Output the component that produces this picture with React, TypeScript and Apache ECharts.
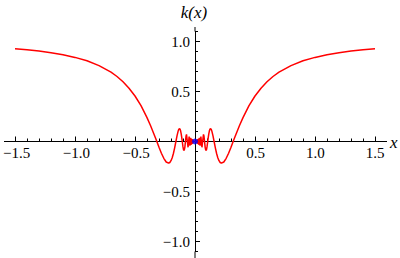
import React, { useEffect, useRef } from "react";
import * as echarts from "echarts";

// Positive half of k(x) (curve is mirror-symmetric about x = 0)
const posX = [
  1.5, 1.4, 1.3, 1.2, 1.1, 1.0, 0.9, 0.8, 0.7, 0.65, 0.6, 0.55, 0.5, 0.45, 0.4, 0.37, 0.35,
  0.33, 0.318, 0.3, 0.28, 0.26, 0.24, 0.22, 0.21, 0.2, 0.19, 0.18, 0.17, 0.16, 0.15, 0.14,
  0.135, 0.13, 0.125, 0.12, 0.115, 0.11, 0.105, 0.1, 0.095, 0.09, 0.085, 0.08, 0.075, 0.0707,
  0.0637, 0.0579, 0.0531, 0.049, 0.0455, 0.0424, 0.0398, 0.0374, 0.0354, 0.0335, 0.0318,
  0.0303, 0.0289, 0.0277, 0.0265, 0.0255, 0.0245, 0.0236, 0.0227, 0.022, 0.0212, 0.0205,
  0.0199, 0.0193, 0.0187, 0.0182, 0.0177, 0.0172, 0.0168, 0.0163, 0.0159,
];
const posK = [
  0.928, 0.917, 0.904, 0.888, 0.868, 0.841, 0.807, 0.759, 0.693, 0.65, 0.597, 0.533, 0.455,
  0.358, 0.239, 0.157, 0.098, 0.037, -0.001, -0.057, -0.117, -0.168, -0.205, -0.217, -0.21,
  -0.192, -0.162, -0.12, -0.066, -0.005, 0.056, 0.106, 0.122, 0.128, 0.124, 0.107, 0.077,
  0.036, -0.01, -0.054, -0.085, -0.089, -0.061, -0.005, 0.052, 0.071,
  0, -0.058, 0, 0.049, 0, -0.042, 0, 0.037, 0, -0.034, 0, 0.03, 0, -0.028, 0, 0.025, 0,
  -0.024, 0, 0.022, 0, -0.021, 0, 0.019, 0, -0.018, 0, 0.017, 0, -0.016, 0,
];
const originPoint = [0, 0];

const xTickLabels = [-1.5, -1.0, -0.5, 0.5, 1.0, 1.5];
const yTickLabels = [-1.0, -0.5, 0.5, 1.0];

const FONT = "Times New Roman, Times, Liberation Serif, DejaVu Serif, serif";
const fmt = (v: number) => (v < 0 ? "\u2212" : "") + Math.abs(v).toFixed(1);

export default function App() {
  const ref = useRef<HTMLDivElement>(null);
  useEffect(() => {
    if (!ref.current) return;
    const chart = echarts.init(ref.current, undefined, { renderer: "svg" });

    const curve: number[][] = [];
    posX.forEach((x, i) => curve.push([-x, posK[i]]));
    curve.push([0, 0]);
    for (let i = posX.length - 1; i >= 0; i--) curve.push([posX[i], posK[i]]);

    const showX = (v: number) => xTickLabels.some((t) => Math.abs(t - v) < 1e-6);
    const showY = (v: number) => yTickLabels.some((t) => Math.abs(t - v) < 1e-6);

    chart.setOption({
      animation: false,
      backgroundColor: "#ffffff",
      grid: [
        { left: 15, width: 360, top: 31.5, height: 220, containLabel: false },
        { left: 195, width: 10, top: 41.5, height: 200, containLabel: false },
        { left: 15, width: 360, top: 131.5, height: 10, containLabel: false },
      ],
      xAxis: [
        {
          type: "value",
          gridIndex: 0,
          min: -1.5,
          max: 1.5,
          interval: 0.5,
          axisLine: { show: true, onZero: true, lineStyle: { color: "#000", width: 1 } },
          axisTick: { show: true, inside: true, length: 5, lineStyle: { color: "#000" } },
          minorTick: { show: true, splitNumber: 5, length: 3, lineStyle: { color: "#000" } },
          splitLine: { show: false },
          axisLabel: { show: false },
        },
        { type: "value", gridIndex: 1, min: 0, max: 1, show: false },
        {
          type: "value",
          gridIndex: 2,
          position: "bottom",
          min: -1.5,
          max: 1.5,
          interval: 0.5,
          axisLine: { show: false, onZero: false },
          axisTick: { show: false },
          splitLine: { show: false },
          axisLabel: {
            show: true,
            margin: 4,
            color: "#000",
            fontFamily: FONT,
            fontSize: 15,
            formatter: (v: number) => (showX(v) ? fmt(v) : ""),
          },
        },
      ],
      yAxis: [
        {
          type: "value",
          gridIndex: 0,
          min: -1.1,
          max: 1.1,
          interval: 0.1,
          axisLine: { show: true, onZero: true, lineStyle: { color: "#000", width: 1 } },
          axisTick: { show: true, inside: true, length: 3, lineStyle: { color: "#000" } },
          splitLine: { show: false },
          axisLabel: { show: false },
        },
        {
          type: "value",
          gridIndex: 1,
          min: -1,
          max: 1,
          interval: 0.5,
          axisLine: { show: false, onZero: false },
          axisTick: { show: true, inside: true, length: 5, lineStyle: { color: "#000" } },
          splitLine: { show: false },
          axisLabel: {
            show: true,
            margin: 5,
            color: "#000",
            fontFamily: FONT,
            fontSize: 15,
            formatter: (v: number) => (showY(v) ? fmt(v) : ""),
          },
        },
        { type: "value", gridIndex: 2, min: 0, max: 1, show: false },
      ],
      graphic: [
        { type: "line", shape: { x1: 4, y1: 141.5, x2: 15, y2: 141.5 }, style: { stroke: "#000", lineWidth: 1 } },
        { type: "line", shape: { x1: 375, y1: 141.5, x2: 387, y2: 141.5 }, style: { stroke: "#000", lineWidth: 1 } },
        { type: "line", shape: { x1: 195, y1: 27, x2: 195, y2: 31.5 }, style: { stroke: "#000", lineWidth: 1 } },
        { type: "line", shape: { x1: 195, y1: 251.5, x2: 195, y2: 258 }, style: { stroke: "#000", lineWidth: 1 } },
        {
          type: "text",
          x: 194,
          y: 12,
          style: { text: "k(x)", fontFamily: FONT, fontStyle: "italic", fontSize: 17, fill: "#000", align: "center", verticalAlign: "middle" },
        },
        {
          type: "text",
          x: 390,
          y: 142,
          style: { text: "x", fontFamily: FONT, fontStyle: "italic", fontSize: 17, fill: "#000", align: "left", verticalAlign: "middle" },
        },
      ],
      series: [
        {
          type: "line",
          xAxisIndex: 0,
          yAxisIndex: 0,
          data: curve,
          showSymbol: false,
          smooth: false,
          lineStyle: { color: "#ff0000", width: 1.5 },
          z: 3,
        },
        {
          type: "scatter",
          xAxisIndex: 0,
          yAxisIndex: 0,
          data: [originPoint],
          symbolSize: 6,
          itemStyle: { color: "#0000ff" },
          z: 4,
        },
      ],
    });
    return () => chart.dispose();
  }, []);
  return <div ref={ref} style={{ position: "absolute", left: 0, top: 0, width: 400, height: 258 }} />;
}
